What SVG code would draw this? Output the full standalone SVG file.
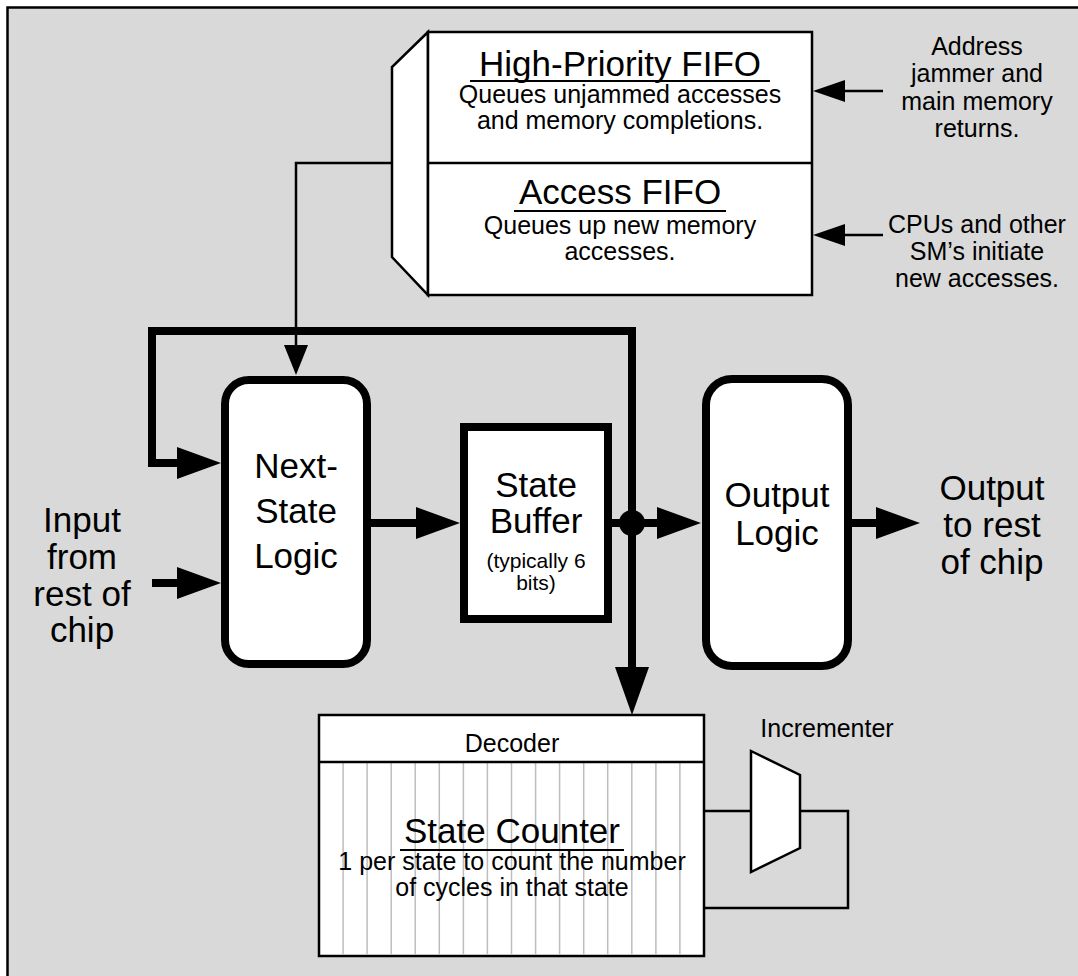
<svg xmlns="http://www.w3.org/2000/svg" width="1078" height="976" viewBox="0 0 1078 976">
<style>
text{font-family:"Liberation Sans",Arial,Helvetica,sans-serif;fill:#000;text-anchor:middle}
.thick{fill:none;stroke:#000;stroke-width:8;stroke-linejoin:miter}
.thin{fill:none;stroke:#000;stroke-width:2.5}
.box{fill:#fff;stroke:#000;stroke-width:2.5}
.heavy{fill:#fff;stroke:#000;stroke-width:8}
.grid{stroke:#bdbdbd;stroke-width:1.5}
.ul{stroke:#000;stroke-width:2}
.big{font-size:35px}
.mid{font-size:25px}
</style>
<defs>
<marker id="ah" markerUnits="userSpaceOnUse" markerWidth="44" markerHeight="32" viewBox="0 0 44 32" refX="0" refY="16" orient="auto"><path d="M0,0 L44,16 L0,32 z" fill="#000"/></marker>
<marker id="ahd" markerUnits="userSpaceOnUse" markerWidth="48" markerHeight="34" viewBox="0 0 48 34" refX="0" refY="17" orient="auto"><path d="M0,0 L48,17 L0,34 z" fill="#000"/></marker>
<marker id="as" markerUnits="userSpaceOnUse" markerWidth="30" markerHeight="24" viewBox="0 0 30 24" refX="0" refY="12" orient="auto"><path d="M0,0 L30,12 L0,24 z" fill="#000"/></marker>
<marker id="ar" markerUnits="userSpaceOnUse" markerWidth="32" markerHeight="22" viewBox="0 0 32 22" refX="0" refY="11" orient="auto"><path d="M0,0 L32,11 L0,22 z" fill="#000"/></marker>
</defs>
<rect x="7.5" y="7.5" width="1090" height="990" fill="#d9d9d9" stroke="#000" stroke-width="2.5"/>

<g id="connectors">
<path class="thin" d="M392,163 H296 V345" marker-end="url(#as)"/>
<path class="thick" d="M632,523 V331 H152 V463 H177" marker-end="url(#ah)"/>
<path class="thick" d="M632,523 V667" marker-end="url(#ahd)"/>
<path class="thick" d="M152,583 H177" marker-end="url(#ah)"/>
<path class="thick" d="M367,523 H416" marker-end="url(#ah)"/>
<path class="thick" d="M612,523 H657" marker-end="url(#ah)"/>
<path class="thick" d="M852,523 H876" marker-end="url(#ah)"/>
<circle cx="632" cy="523" r="13" fill="#000"/>
<path class="thin" d="M883,91 H845" marker-end="url(#ar)"/>
<path class="thin" d="M883,235 H845" marker-end="url(#ar)"/>
<path class="thin" d="M704,811 H751 M800,811 H848 V908 H704"/>
</g>

<g id="fifo">
<polygon class="box" points="428,32 392,67 392,257 428,295"/>
<rect class="box" x="428" y="32" width="384" height="263"/>
<line class="thin" x1="428" y1="163" x2="812" y2="163"/>
<text class="big" x="620" y="76">High-Priority FIFO</text>
<line class="ul" x1="470" y1="81" x2="770" y2="81"/>
<text class="mid" x="620" y="103">Queues unjammed accesses</text>
<text class="mid" x="620" y="129">and memory completions.</text>
<text class="big" x="620" y="204">Access FIFO</text>
<line class="ul" x1="514" y1="211" x2="726" y2="211"/>
<text class="mid" x="620" y="234">Queues up new memory</text>
<text class="mid" x="620" y="260">accesses.</text>
</g>

<g id="label-address">
<text class="mid" x="977" y="55">Address</text>
<text class="mid" x="977" y="82">jammer and</text>
<text class="mid" x="977" y="110">main memory</text>
<text class="mid" x="977" y="137">returns.</text>
</g>
<g id="label-cpus">
<text class="mid" x="977" y="233">CPUs and other</text>
<text class="mid" x="977" y="260">SM’s initiate</text>
<text class="mid" x="977" y="287">new accesses.</text>
</g>

<g id="next-state">
<rect class="heavy" x="225" y="380" width="142" height="284" rx="24"/>
<text class="big" x="296" y="478">Next-</text>
<text class="big" x="296" y="523">State</text>
<text class="big" x="296" y="568">Logic</text>
</g>

<g id="state-buffer">
<rect class="heavy" x="464" y="427" width="144" height="192"/>
<text class="big" x="536" y="497">State</text>
<text class="big" x="536" y="533">Buffer</text>
<text x="536" y="568" font-size="21">(typically 6</text>
<text x="536" y="590" font-size="21">bits)</text>
</g>

<g id="output-logic">
<rect class="heavy" x="706" y="379" width="142" height="287" rx="26"/>
<text class="big" x="777" y="507">Output</text>
<text class="big" x="777" y="545">Logic</text>
</g>

<g id="label-input">
<text class="big" x="82" y="532">Input</text>
<text class="big" x="82" y="569">from</text>
<text class="big" x="82" y="606">rest of</text>
<text class="big" x="82" y="642">chip</text>
</g>

<g id="label-output">
<text class="big" x="992" y="500">Output</text>
<text class="big" x="992" y="537">to rest</text>
<text class="big" x="992" y="574">of chip</text>
</g>

<g id="state-counter">
<rect class="box" x="319" y="715" width="385" height="241"/>
<g class="grid">
<line x1="343.1" y1="763" x2="343.1" y2="955"/>
<line x1="367.1" y1="763" x2="367.1" y2="955"/>
<line x1="391.2" y1="763" x2="391.2" y2="955"/>
<line x1="415.2" y1="763" x2="415.2" y2="955"/>
<line x1="439.3" y1="763" x2="439.3" y2="955"/>
<line x1="463.4" y1="763" x2="463.4" y2="955"/>
<line x1="487.4" y1="763" x2="487.4" y2="955"/>
<line x1="511.5" y1="763" x2="511.5" y2="955"/>
<line x1="535.6" y1="763" x2="535.6" y2="955"/>
<line x1="559.6" y1="763" x2="559.6" y2="955"/>
<line x1="583.7" y1="763" x2="583.7" y2="955"/>
<line x1="607.7" y1="763" x2="607.7" y2="955"/>
<line x1="631.8" y1="763" x2="631.8" y2="955"/>
<line x1="655.9" y1="763" x2="655.9" y2="955"/>
<line x1="679.9" y1="763" x2="679.9" y2="955"/>
</g>
<line class="thin" x1="319" y1="762" x2="704" y2="762"/>
<text x="512" y="752" font-size="25">Decoder</text>
<text x="512" y="843" font-size="35">State Counter</text>
<line class="ul" x1="400" y1="850" x2="624" y2="850"/>
<text x="512" y="870" font-size="25">1 per state to count the number</text>
<text x="512" y="896" font-size="25">of cycles in that state</text>
</g>

<g id="incrementer">
<polygon class="box" points="751,751 800,775 800,848 751,872"/>
<text x="827" y="737" font-size="25">Incrementer</text>
</g>
</svg>
